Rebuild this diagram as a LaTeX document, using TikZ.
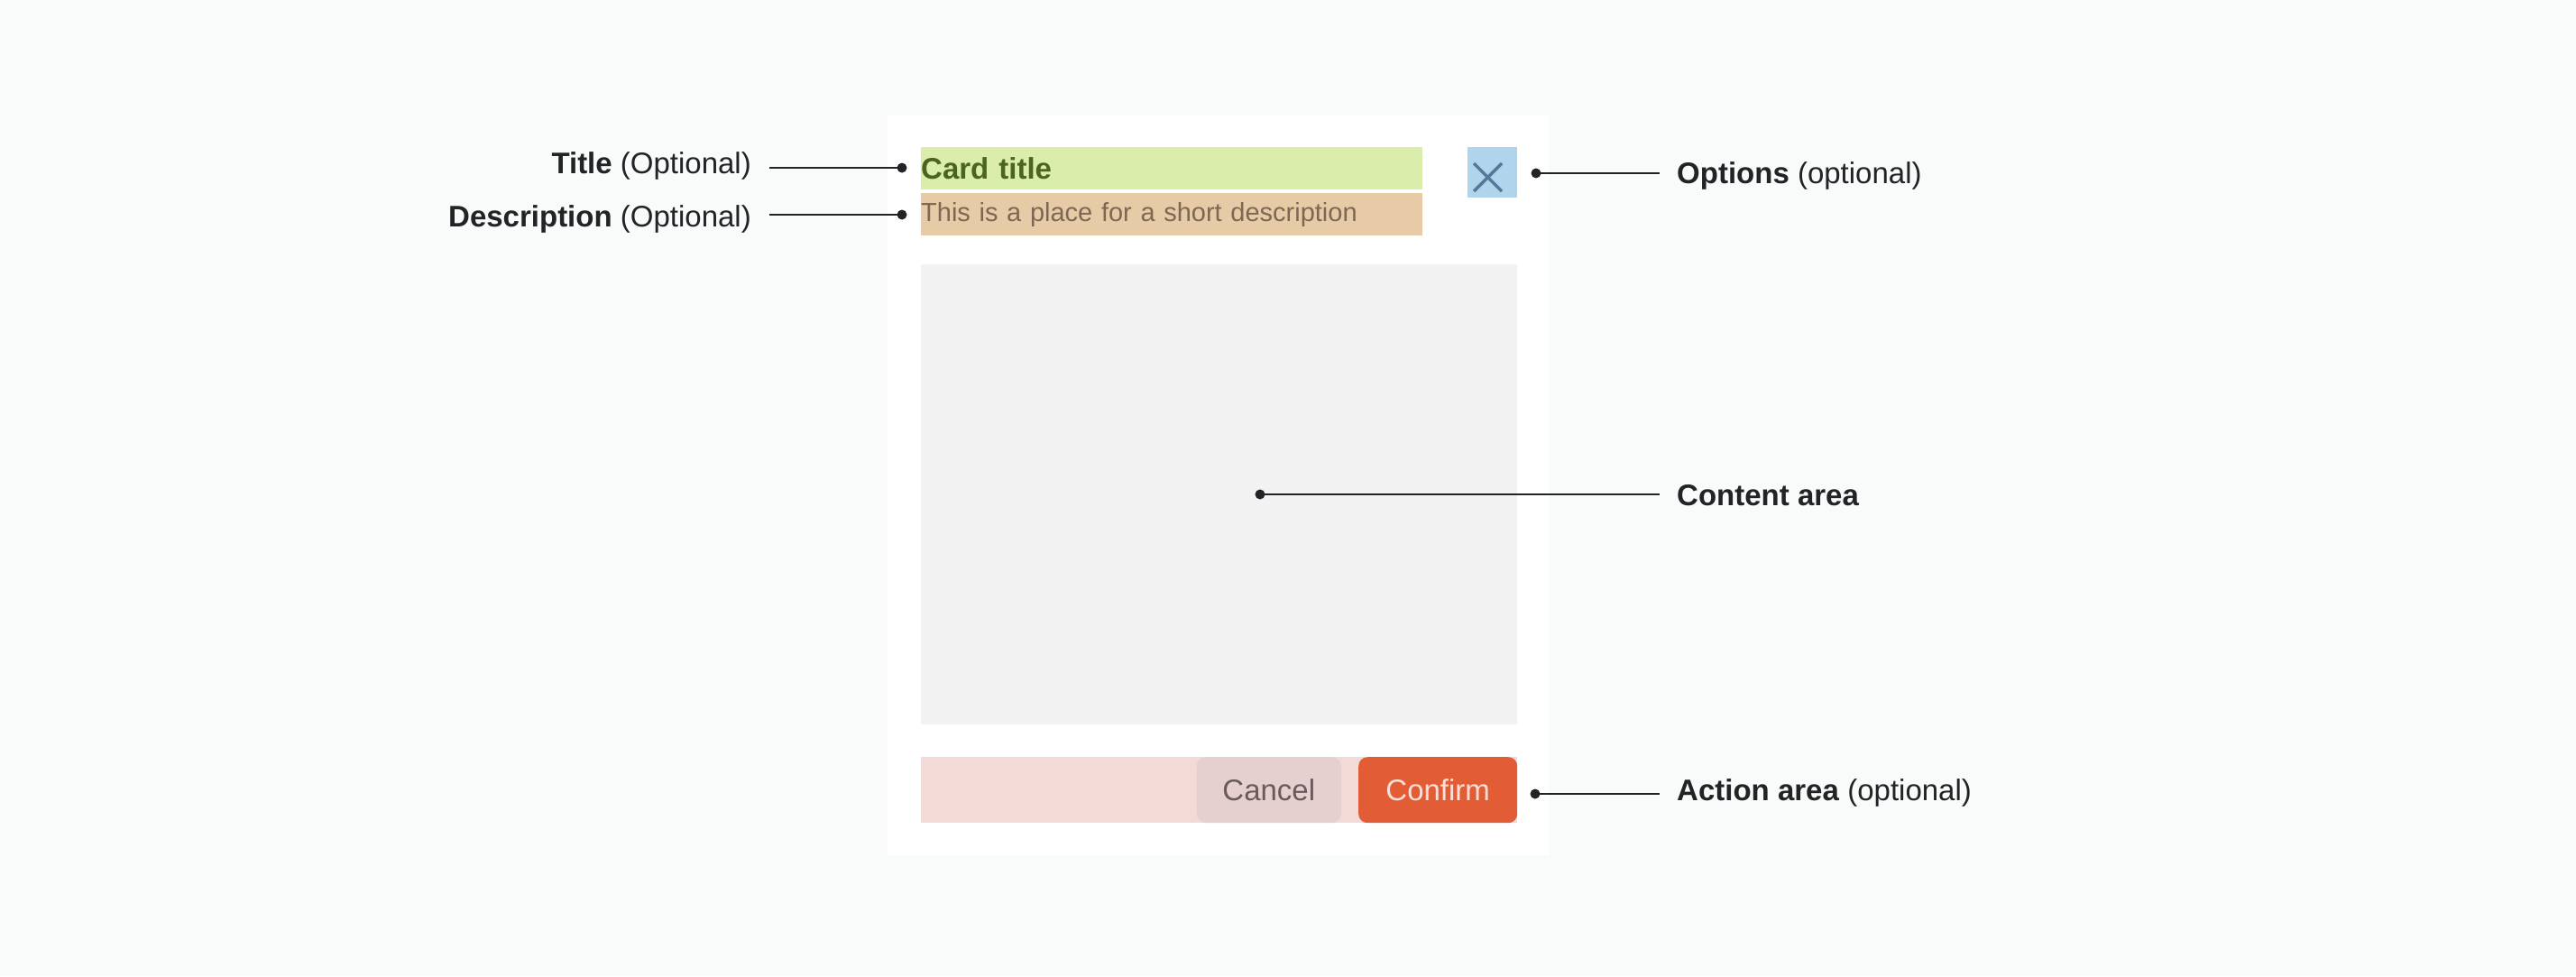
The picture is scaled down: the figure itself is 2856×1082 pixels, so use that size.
\documentclass[tikz,border=0pt]{standalone}
\usepackage{fontspec}
\setmainfont{Liberation Sans}
\usetikzlibrary{positioning}
\definecolor{bgc}{HTML}{F9FAFA}
\definecolor{ink}{HTML}{222327}
\definecolor{titlefill}{HTML}{DAEDAB}
\definecolor{titleink}{HTML}{4B6421}
\definecolor{descfill}{HTML}{E6CBA6}
\definecolor{descink}{HTML}{7E6853}
\definecolor{optfill}{HTML}{AFD4EC}
\definecolor{xink}{HTML}{537A98}
\definecolor{contfill}{HTML}{F2F2F2}
\definecolor{actfill}{HTML}{F2DAD7}
\definecolor{cancelfill}{HTML}{E6D0CF}
\definecolor{cancelink}{HTML}{6A5A5D}
\definecolor{confirmfill}{HTML}{E25D35}
\definecolor{confirmink}{HTML}{F8DED6}
\tikzset{
  area/.style   = {anchor=north west, inner sep=0pt},
  bar/.style    = {area, minimum width=556pt, minimum height=47pt,
                   text width=556pt, align=left},
  btn/.style    = {inner sep=0pt, rounded corners=10pt, minimum height=73pt,
                   font=\fontsize{33}{40}\selectfont},
  lbl/.style    = {inner sep=0pt, text=ink, font=\fontsize{33}{40}\selectfont},
  leader/.style = {draw=ink, line width=2.5pt}
}
\begin{document}
\begin{tikzpicture}[x=1pt, y=-1pt]

% background and card
\fill[bgc] (0,0) rectangle (2856,1082);
\useasboundingbox (0,0) rectangle (2856,1082);
\node[area, fill=white, minimum width=733pt, minimum height=820pt] (card) at (984,128) {};

% header
\node[bar, fill=titlefill, text=titleink,
      font=\fontsize{33}{40}\selectfont\bfseries] (cardtitle) at (1021,163) {Card title};
\node[bar, fill=descfill, text=descink,
      font=\fontsize{29}{35}\selectfont] (carddesc) at (1021,214) {This is a place for a short description};
\node[area, fill=optfill, minimum width=55pt, minimum height=56pt] (optbox) at (1627,163) {};
\draw[xink, line width=3.5pt] (1634,181) -- (1665,212) (1634,212) -- (1665,181);

% content
\node[area, fill=contfill, minimum width=661pt, minimum height=510pt] (content) at (1021,293) {};

% actions
\node[area, fill=actfill, minimum width=661pt, minimum height=73pt] (actbar) at (1021,839) {};
\node[btn, fill=confirmfill, text=confirmink, minimum width=176pt,
      anchor=north east] (confirm) at (actbar.north east) {Confirm};
\node[btn, fill=cancelfill, text=cancelink, minimum width=160pt,
      left=19pt of confirm] (cancel) {Cancel};

% dots
\coordinate (titledot) at (1000,186);
\coordinate (descdot) at (1000,238);
\coordinate (optdot) at (1703,192);
\coordinate (contdot) at (1397,548);
\coordinate (actdot) at (1702,880);

% labels
\node[lbl, anchor=base east] (titlelbl) at (833,192) {\textbf{Title} (Optional)};
\node[lbl, anchor=base east] (desclbl) at (833,251) {\textbf{Description} (Optional)};
\node[lbl, anchor=base west] (optlbl) at (1859,203) {\textbf{Options} (optional)};
\node[lbl, anchor=base west] (contlbl) at (1859,560) {\textbf{Content area}};
\node[lbl, anchor=base west] (actlbl) at (1859,887) {\textbf{Action area} (optional)};

% leaders from each dot to its label
\foreach \dotname/\lblname in {titledot/titlelbl, descdot/desclbl}
  \draw[leader] (\dotname) -- ([xshift=20pt]\dotname -| \lblname.east);
\foreach \dotname/\lblname in {optdot/optlbl, contdot/contlbl, actdot/actlbl}
  \draw[leader] (\dotname) -- ([xshift=-19pt]\dotname -| \lblname.west);
\foreach \dotname in {titledot, descdot, optdot, contdot, actdot}
  \fill[ink] (\dotname) circle (5.5pt);
\end{tikzpicture}
\end{document}
